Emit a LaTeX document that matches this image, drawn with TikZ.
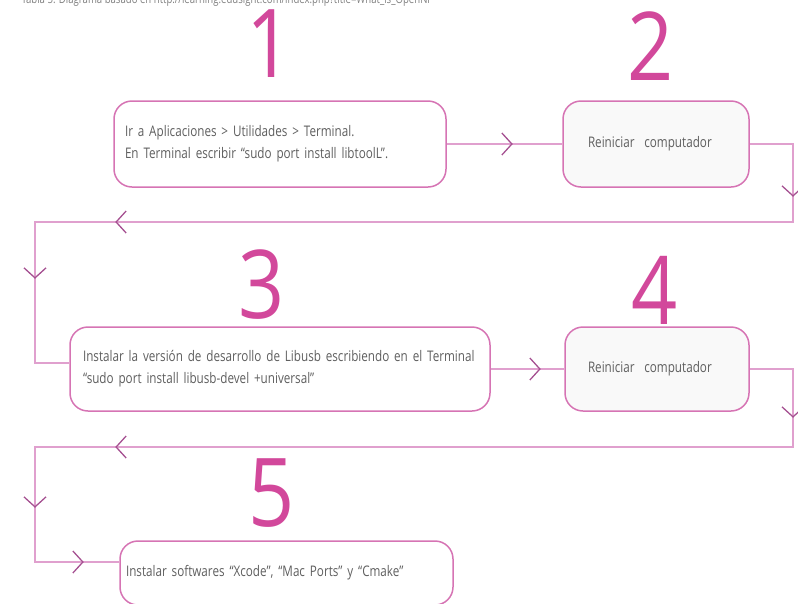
\documentclass[tikz,border=0pt]{standalone}
\usepackage{fontspec}
\setmainfont{Open Sans}[FakeStretch=0.8]
\newfontfamily\numfont{Open Sans}[FakeStretch=0.85]
\usepackage{tikz}
\usetikzlibrary{arrows.meta,decorations.markings,positioning}
\definecolor{rosa}{RGB}{214,116,180}
\definecolor{rosaclaro}{RGB}{224,160,206}
\definecolor{morado}{RGB}{165,80,145}
\definecolor{numrosa}{RGB}{210,72,155}
\definecolor{textgris}{RGB}{95,95,95}
\definecolor{fondogris}{RGB}{249,249,249}
\tikzset{chev/.style={postaction={decorate, decoration={markings,
  mark=at position #1 with {\arrow[morado, line width=1.3pt]{Straight Barb[length=10pt, width=22pt]}}}}}}

\begin{document}
\begin{tikzpicture}[x=1pt, y=-1pt]
\tikzstyle{paso} = [rectangle, rounded corners=18pt, draw=rosa, line width=1.5pt, fill=white, text=textgris, font=\fontsize{14.6}{22}\selectfont, align=left]
\tikzstyle{reinicio} = [paso, fill=fondogris]
\tikzstyle{numero} = [text=numrosa, font=\numfont\fontsize{95}{95}\selectfont, inner sep=0pt]
\tikzstyle{linea} = [line width=1.6pt, draw=rosaclaro]

\useasboundingbox (0,0) rectangle (798,603);
\clip (0,0) rectangle (798,603);

\node (Titulo) [anchor=base west, text=gray, font=\fontsize{12}{14}\selectfont] at (18,3) {Tabla 5. Diagrama basado en http://learning.edusight.com/index.php?title=What\_is\_OpenNI};

% pasos
\node (Paso1) [paso, minimum width=332pt, minimum height=86pt, text width=310pt] at (280,144) {Ir a Aplicaciones > Utilidades > Terminal.\\En Terminal escribir “sudo port install libtoolL”.};
\node (Reinicio1) [reinicio, minimum width=186pt, minimum height=86pt, text width=136pt] at (656,144) {Reiniciar\ \ computador\\[6pt]};
\node (Paso3) [paso, minimum width=420pt, minimum height=84pt, text width=394pt] at (280,369) {Instalar la versión de desarrollo de Libusb escribiendo en el Terminal\\“sudo port install libusb-devel +universal”};
\node (Reinicio2) [reinicio, minimum width=184pt, minimum height=84pt, text width=138pt] at (657,369) {Reiniciar\ \ computador};
\node (Paso5) [paso, minimum width=333pt, minimum height=64pt, text width=321pt] at (286.5,573) {Instalar softwares “Xcode”, “Mac Ports” y “Cmake”};

% numeros
\node (Num1) [numero] at (270,44) {1};
\node (Num2) [numero] at (651,46) {2};
\node (Num3) [numero] at (262,285) {3};
\node (Num4) [numero] at (655,290) {4};
\node (Num5) [numero] at (272,493) {5};

% conectores
\coordinate (V1) at (793,144);
\coordinate (V2) at (793,222);
\coordinate (V3) at (35,222);
\coordinate (V5) at (793,369);
\coordinate (V6) at (793,447);
\coordinate (V7) at (35,447);

\draw [linea, chev=66pt] (Paso1) -- (Reinicio1);
\draw [linea, chev=96pt, chev=799pt, chev=936pt] (Reinicio1.east) -- (V1) -- (V2) -- (V3) |- ([yshift=6pt]Paso3.west);
\draw [linea, chev=50pt] (Paso3) -- (Reinicio2);
\draw [linea, chev=92pt, chev=799pt, chev=940pt, chev=1043pt] (Reinicio2.east) -- (V5) -- (V6) -- (V7) |- ([yshift=11pt]Paso5.west);
\end{tikzpicture}
\end{document}
